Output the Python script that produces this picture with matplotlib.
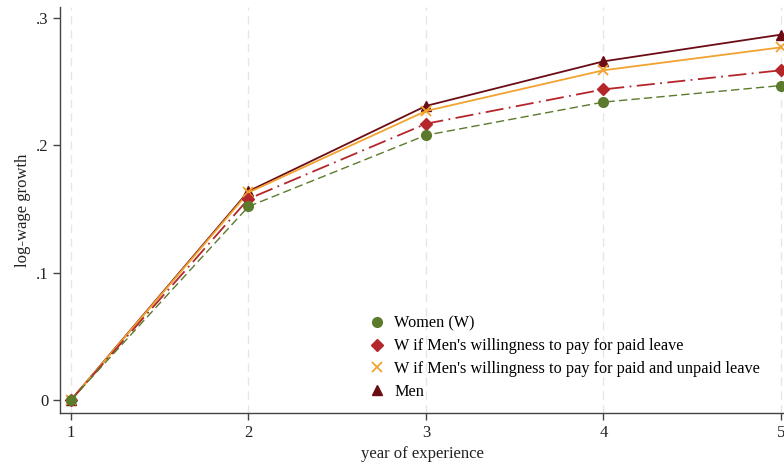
import matplotlib
matplotlib.use("Agg")
import matplotlib.pyplot as plt
from matplotlib.lines import Line2D

# Data
years = [1, 2, 3, 4, 5]
women = [0.0, 0.152, 0.208, 0.234, 0.247]
w_paid = [0.0, 0.158, 0.217, 0.244, 0.259]
w_paid_unpaid = [0.0, 0.163, 0.227, 0.259, 0.277]
men = [0.0, 0.164, 0.231, 0.266, 0.287]

labels = [
    "Women (W)",
    "W if Men's willingness to pay for paid leave",
    "W if Men's willingness to pay for paid and unpaid leave",
    "Men",
]
y_ticks = [0, 0.1, 0.2, 0.3]
y_tick_labels = ["0", ".1", ".2", ".3"]

plt.rcParams["font.family"] = ["Liberation Serif", "DejaVu Serif"]

c_women = "#5b7a2c"
c_paid = "#b5262b"
c_both = "#f2a22e"
c_men = "#6b0c14"

fig = plt.figure(figsize=(7.84, 4.66), dpi=100)
ax = fig.add_axes([60 / 784, 53 / 466, 724 / 784, 406 / 466])

# Vertical grid at x ticks
for x in years:
    ax.axvline(x, color="#e6e6e6", lw=1, ls=(0, (6, 4)), zorder=0)

# drawn in reverse so that Women sits on top
ax.plot(years, men, color=c_men, lw=1.3, ls="-",
        marker="^", ms=7, clip_on=False)
ax.plot(years, w_paid_unpaid, color=c_both, lw=1.3, ls="-",
        marker="x", ms=7, mew=1.3, clip_on=False)
ax.plot(years, w_paid, color=c_paid, lw=1.3, ls=(0, (10, 3, 1, 3)),
        marker="D", ms=6.5, clip_on=False)
ax.plot(years, women, color=c_women, lw=1, ls=(0, (6, 3)),
        marker="o", ms=7, clip_on=False)

ax.set_xlim(0.938, 5.017)
ax.set_ylim(-0.0102, 0.3087)
ax.set_xticks(years)
ax.set_yticks(y_ticks)
ax.set_yticklabels(y_tick_labels)
ax.tick_params(direction="out", length=5, width=1, color="#444444",
               labelsize=12, labelcolor="#222222")

for side in ["top", "right"]:
    ax.spines[side].set_visible(False)
for side in ["left", "bottom"]:
    ax.spines[side].set_color("#444444")
    ax.spines[side].set_linewidth(1)

ax.set_xlabel("year of experience", fontsize=12, color="#222222", labelpad=4)
ax.set_ylabel("log-wage growth", fontsize=12, color="#222222", labelpad=3)

handles = [
    Line2D([], [], ls="none", marker="o", color=c_women, ms=7),
    Line2D([], [], ls="none", marker="D", color=c_paid, ms=6.5),
    Line2D([], [], ls="none", marker="x", color=c_both, ms=7, mew=1.3),
    Line2D([], [], ls="none", marker="^", color=c_men, ms=7),
]
fig.legend(handles, labels, loc="upper left",
           bbox_to_anchor=(362 / 784, 1 - 309 / 466),
           frameon=False, fontsize=11.7, handlelength=1.0,
           handletextpad=0.6, labelspacing=0.42, borderaxespad=0)

fig.savefig("out.png", dpi=100)
